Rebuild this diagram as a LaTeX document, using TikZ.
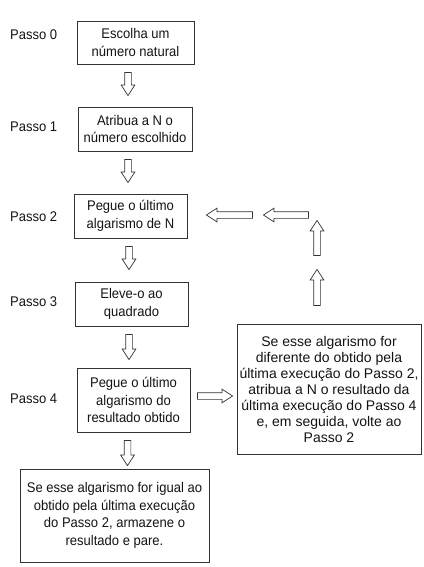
\documentclass[tikz,border=0pt]{standalone}
\usepackage{fontspec}
\setmainfont{Liberation Sans}[FakeStretch=0.93]
\newfontfamily\widefont{Liberation Sans}
\usetikzlibrary{shapes.arrows}
\definecolor{linec}{HTML}{333333}
\definecolor{txtc}{HTML}{141414}
\begin{document}
\begin{tikzpicture}[x=1pt,y=-1pt,
  font=\fontsize{14}{17.5}\selectfont,
  box/.style={draw=linec, line width=0.9pt, align=center, inner sep=0pt, text=txtc},
  lab/.style={anchor=west, text=txtc, inner sep=0pt},
  barrow/.style={single arrow, draw=linec, fill=white, line width=0.7pt,
    inner xsep=0pt, inner ysep=3pt, minimum width=0pt,
    single arrow head extend=3.5pt, single arrow tip angle=66,
    single arrow head indent=0pt}]
\fill[white] (0,0) rectangle (423,567);
\useasboundingbox (0,0) rectangle (423,567);

% step labels
\node[lab] (p0) at (10,35) {Passo 0};
\node[lab] (p1) at (10,127) {Passo 1};
\node[lab] (p2) at (10,217) {Passo 2};
\node[lab] (p3) at (10,302) {Passo 3};
\node[lab] (p4) at (10,399) {Passo 4};

% boxes
\node[box, minimum width=117pt, minimum height=43pt] (s0) at (135.5,42.5) {Escolha um\\número natural};
\node[box, minimum width=114pt, minimum height=44pt] (s1) at (135,129) {Atribua a N o\\número escolhido};
\node[box, minimum width=113pt, minimum height=44pt] (s2) at (130.5,216) {Pegue o último\\algarismo de N};
\node[box, minimum width=113pt, minimum height=44pt] (s3) at (131.5,304) {Eleve-o ao\\quadrado};
\node[box, minimum width=113pt, minimum height=64pt] (s4) at (133.5,400) {Pegue o último\\algarismo do\\resultado obtido};
\node[box, minimum width=189pt, minimum height=93pt] (s5) at (114.5,515.5) {Se esse algarismo for igual ao\\obtido pela última execução\\do Passo 2, armazene o\\resultado e pare.};
\node[box, minimum width=184pt, minimum height=130pt, font=\widefont\fontsize{14}{16}\selectfont] (s6) at (329,389) {Se esse algarismo for\\diferente do obtido pela\\última execução do Passo 2,\\atribua a N o resultado da\\última execução do Passo 4\\e, em seguida, volte ao\\Passo 2};

% block arrows
\node[barrow, minimum height=23pt, rotate=-90] (a01) at (128,81.5) {};
\node[barrow, minimum height=23pt, rotate=-90] (a12) at (128,168.5) {};
\node[barrow, minimum height=23pt, rotate=-90] (a23) at (129,255.5) {};
\node[barrow, minimum height=25pt, rotate=-90] (a34) at (129,344.5) {};
\node[barrow, minimum height=25pt, rotate=-90] (a45) at (127.5,450.5) {};
\node[barrow, minimum height=35pt] (a46) at (212.5,396) {};
\node[barrow, minimum height=36pt, rotate=90] (a6u1) at (317,290) {};
\node[barrow, minimum height=35pt, rotate=90] (a6u2) at (317,240.5) {};
\node[barrow, minimum height=45pt, rotate=180] (a6l1) at (288.5,215) {};
\node[barrow, minimum height=46pt, rotate=180] (a6l2) at (232,215) {};
\end{tikzpicture}
\end{document}
